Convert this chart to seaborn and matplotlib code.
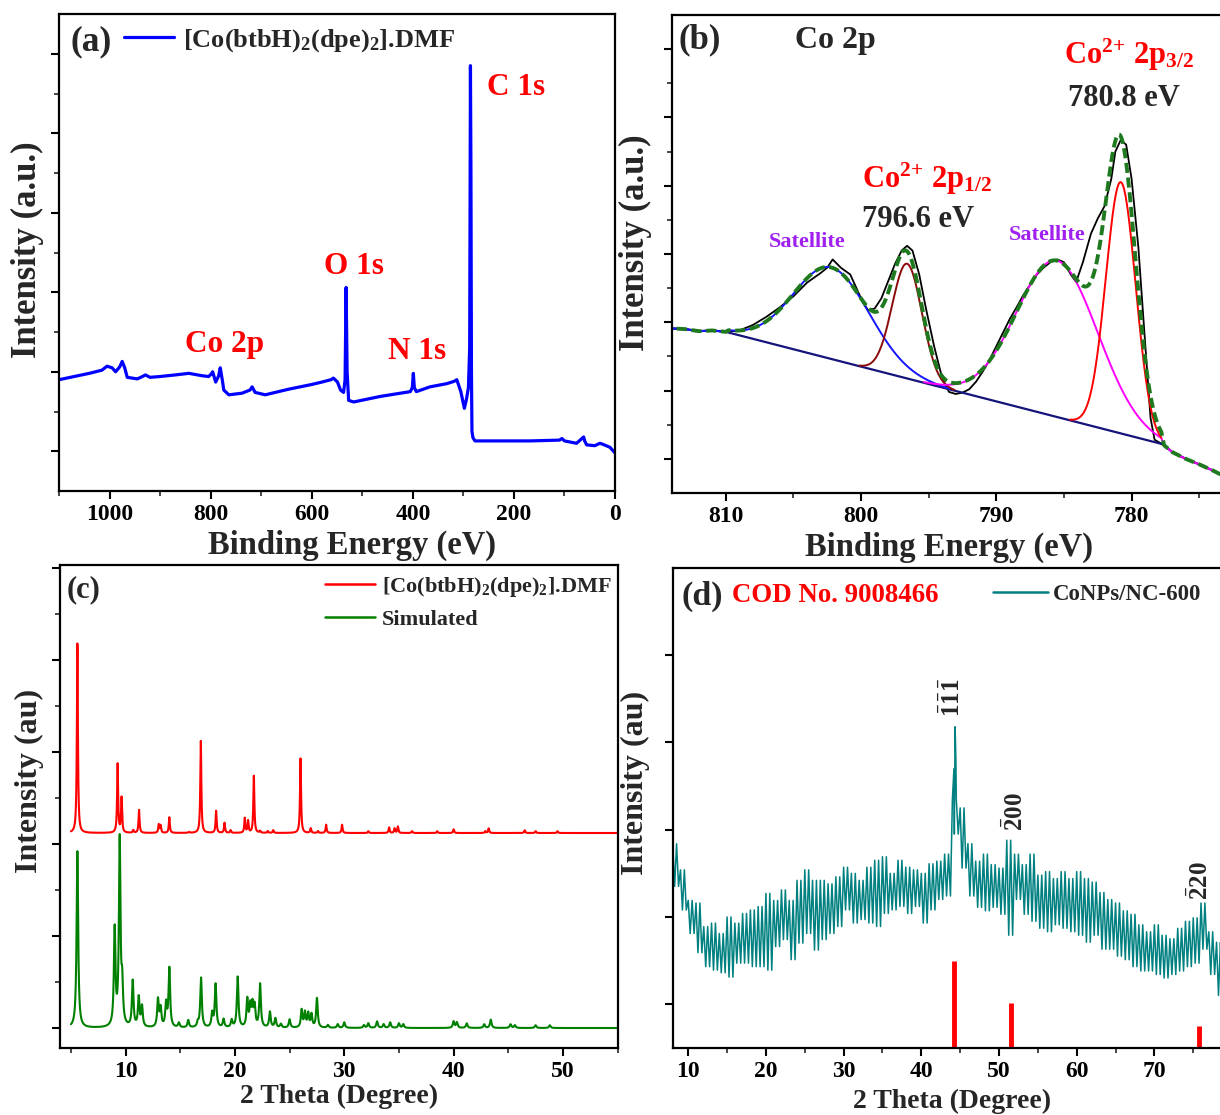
import numpy as np
import matplotlib
matplotlib.use("Agg")
import matplotlib.pyplot as plt
from matplotlib.ticker import MultipleLocator, FixedLocator
from matplotlib.lines import Line2D
import seaborn as sns

# ---------------------------------------------------------------- data
# (a) XPS survey spectrum: binding energy (eV) and intensity (a.u.)
survey_ev = [1100, 1070, 1040, 1015, 1005, 995, 988, 980, 975, 970, 965, 945, 935,
             929, 920, 900, 870, 843, 817, 804, 799, 796, 790, 784, 781, 777, 774,
             764, 738, 722, 718, 712, 692, 646, 600, 580, 562, 557, 549, 543, 537,
             534, 532, 530, 527, 517, 464, 405, 401, 399, 397, 393, 366, 333, 318,
             313, 305, 298, 294, 290, 287.5, 286, 285, 284, 283, 281, 277, 168,
             110, 105, 100, 76, 62, 60, 56, 40, 30, 25, 10, 3, 0]
survey_int = [1.40, 1.44, 1.48, 1.52, 1.57, 1.55, 1.50, 1.56, 1.63, 1.55, 1.43, 1.41,
              1.44, 1.46, 1.43, 1.44, 1.46, 1.48, 1.45, 1.44, 1.47, 1.50, 1.37, 1.45,
              1.55, 1.40, 1.27, 1.21, 1.23, 1.27, 1.31, 1.24, 1.21, 1.28, 1.34, 1.37,
              1.40, 1.42, 1.37, 1.27, 1.24, 1.40, 2.56, 1.50, 1.14, 1.12, 1.19, 1.25,
              1.30, 1.48, 1.30, 1.25, 1.31, 1.35, 1.38, 1.40, 1.25, 1.04, 1.15, 1.30,
              1.80, 5.35, 4.00, 1.50, 0.75, 0.67, 0.63, 0.63, 0.64, 0.66, 0.63, 0.60,
              0.68, 0.63, 0.58, 0.57, 0.60, 0.59, 0.55, 0.50, 0.48]

# (b) Co 2p high-resolution spectrum (measured)
co2p_ev = [814.0, 813.0, 812.0, 811.0, 810.0, 809.0, 808.0, 807.0, 806.0, 805.0,
           804.0, 803.0, 802.5, 802.1, 801.5, 800.8, 800.0, 799.5, 799.0, 798.5,
           798.0, 797.5, 797.0, 796.6, 796.2, 795.7, 795.2, 794.6, 794.0, 793.5,
           793.0, 792.5, 792.0, 791.5, 791.0, 790.5, 790.0, 789.5, 789.0, 788.5,
           788.0, 787.5, 787.0, 786.5, 786.0, 785.5, 785.0, 784.5, 784.1, 783.6,
           783.0, 782.5, 782.0, 781.5, 781.2, 780.8, 780.4, 780.0, 779.5, 779.0,
           778.6, 778.3, 777.6, 777.0, 776.5, 776.0, 775.0, 774.0, 773.5, 772.0]
co2p_int = [2.41, 2.40, 2.37, 2.38, 2.36, 2.38, 2.46, 2.58, 2.72, 2.88,
            3.08, 3.22, 3.30, 3.42, 3.30, 3.20, 2.85, 2.68, 2.70, 2.85,
            3.10, 3.35, 3.55, 3.62, 3.55, 3.20, 2.70, 2.15, 1.68, 1.48,
            1.45, 1.47, 1.52, 1.63, 1.78, 1.95, 2.15, 2.35, 2.55, 2.72,
            2.90, 3.05, 3.20, 3.30, 3.38, 3.42, 3.38, 3.20, 3.09, 3.38,
            3.80, 4.02, 4.20, 4.60, 5.00, 5.17, 5.10, 4.60, 3.60, 2.20,
            1.10, 0.78, 0.70, 0.60, 0.55, 0.50, 0.42, 0.33, 0.28, 0.20]
# linear background end points
bg_ev = [809.8, 777.8]
bg_int = [2.35, 0.72]
# fitted components: centre (eV), height above background, gaussian sigma (eV)
comp_names = ["Satellite 1", "Co2+ 2p1/2", "Satellite 2", "Co2+ 2p3/2"]
comp_center = [802.2, 796.6, 785.5, 780.8]
comp_height = [1.34, 1.68, 2.29, 3.68]
comp_sigma = [2.8, 1.1, 3.0, 1.1]
comp_color = ["#1414FF", "#8B0A0A", "#FF00FF", "#FF0000"]

# (c) PXRD peak lists: 2theta (deg) and peak top
exp_base = 2.12
exp_pos = [5.59, 9.27, 9.63, 10.7, 11.23, 13.03, 13.2, 14.0, 15.8, 16.88, 18.28,
           19.05, 19.6, 20.9, 21.2, 21.73, 22.3, 23.0, 23.5, 26.0, 26.93, 27.6,
           28.34, 29.8, 32.2, 34.1, 34.6, 34.9, 36.2, 38.5, 40.0, 42.9, 43.2,
           46.5, 47.5, 49.5]
exp_top = [4.18, 2.87, 2.50, 2.15, 2.37, 2.21, 2.20, 2.29, 2.13, 3.12, 2.36,
           2.23, 2.15, 2.28, 2.25, 2.74, 2.14, 2.14, 2.15, 2.93, 2.17, 2.14,
           2.21, 2.21, 2.14, 2.18, 2.17, 2.19, 2.14, 2.14, 2.16, 2.14, 2.17,
           2.15, 2.14, 2.14]
sim_base = 0.0
sim_pos = [5.59, 9.0, 9.46, 9.69, 10.65, 11.2, 11.5, 12.96, 13.2, 13.7, 14.0,
           14.87, 15.73, 16.6, 16.9, 17.92, 18.23, 18.96, 19.7, 20.25, 21.13,
           21.4, 21.6, 21.8, 22.3, 23.2, 23.7, 24.2, 25.0, 26.1, 26.4, 26.7,
           27.0, 27.5, 28.5, 29.4, 30.0, 31.8, 32.2, 33.0, 33.6, 34.2, 35.0,
           35.4, 40.0, 40.3, 41.2, 42.8, 43.4, 45.2, 45.6, 47.5, 48.8]
sim_top = [1.92, 1.05, 2.02, 0.40, 0.50, 0.32, 0.22, 0.30, 0.20, 0.25, 0.64,
           0.05, 0.08, 0.05, 0.54, 0.15, 0.47, 0.09, 0.08, 0.55, 0.30,
           0.22, 0.23, 0.22, 0.47, 0.17, 0.10, 0.04, 0.09, 0.19, 0.16, 0.15,
           0.14, 0.32, 0.03, 0.04, 0.06, 0.03, 0.05, 0.07, 0.04, 0.06, 0.05,
           0.04, 0.07, 0.06, 0.05, 0.04, 0.09, 0.04, 0.03, 0.03, 0.03]

# (d) CoNPs/NC-600 XRD: upper / lower extent of the trace in each 1-degree window
xrd_deg = list(range(8, 80))
xrd_hi = [2.34, 2.04, 1.69, 1.66, 1.39, 1.43, 1.31, 1.50, 1.43, 1.54, 1.58, 1.62,
          1.77, 1.69, 1.81, 1.69, 1.92, 2.04, 1.92, 1.92, 1.88, 1.96, 2.07, 2.00,
          1.92, 2.07, 2.15, 2.19, 2.00, 2.15, 2.07, 2.04, 2.00, 2.11, 2.14, 2.22,
          2.85, 2.75, 2.34, 2.14, 2.22, 2.10, 2.06, 2.38, 2.22, 2.10, 2.22, 1.98,
          2.02, 1.94, 2.02, 1.94, 2.02, 1.94, 1.90, 1.78, 1.70, 1.66, 1.57, 1.53,
          1.41, 1.33, 1.41, 1.29, 1.25, 1.37, 1.45, 1.49, 1.66, 1.33, 1.21, 1.10]
xrd_lo = [1.85, 1.58, 1.31, 1.09, 0.93, 0.89, 0.86, 0.81, 0.97, 0.97, 0.93, 0.93,
          0.89, 1.16, 1.24, 1.01, 1.20, 1.31, 1.12, 1.24, 1.31, 1.39, 1.58, 1.43,
          1.47, 1.43, 1.39, 1.54, 1.58, 1.62, 1.54, 1.62, 1.43, 1.58, 1.70, 1.74,
          2.45, 2.06, 1.74, 1.61, 1.57, 1.61, 1.53, 1.29, 1.70, 1.53, 1.45, 1.37,
          1.33, 1.41, 1.37, 1.33, 1.29, 1.21, 1.29, 1.13, 1.13, 1.05, 1.01, 0.93,
          0.88, 0.88, 0.84, 0.80, 0.84, 0.88, 0.93, 0.97, 1.13, 0.84, 0.60, 0.65]
apex_deg = [44.2, 44.35, 44.45]
apex_int = [3.20, 3.68, 3.30]
# reference pattern (COD 9008466, fcc Co)
cod_pos = [44.2, 51.5, 75.8]
cod_int = [1.00, 0.51, 0.25]
hkl_labels = [r"$\bar{1}\bar{1}\bar{1}$", r"$\bar{2}00$", r"$\bar{2}20$"]

# ---------------------------------------------------------------- style
sns.set_style("ticks")
plt.rcParams.update({
    "font.family": ["Liberation Serif", "DejaVu Serif"],
    "font.weight": "bold",
    "axes.labelweight": "bold",
    "mathtext.fontset": "custom",
    "mathtext.rm": "Liberation Serif:bold",
    "mathtext.it": "Liberation Serif:bold",
    "mathtext.bf": "Liberation Serif:bold",
    "mathtext.default": "bf",
    "axes.edgecolor": "black",
    "axes.linewidth": 1.6,
})

W, H = 1220, 1115
fig = plt.figure(figsize=(W / 100, H / 100), dpi=100)


def rect(left, top, right, bottom):
    return [left / W, 1 - bottom / H, (right - left) / W, (bottom - top) / H]


def style(ax, tick_size=17):
    for sp in ax.spines.values():
        sp.set_linewidth(1.6)
        sp.set_color("black")
    ax.tick_params(which="major", direction="out", length=6, width=1.5,
                   labelsize=tick_size, top=False, right=False, colors="black")
    ax.tick_params(which="minor", direction="out", length=3.6, width=1.2,
                   top=False, right=False)
    ax.tick_params(axis="y", labelleft=False)
    for lab in ax.get_xticklabels():
        lab.set_fontweight("bold")


def axis_labels(ax, xlabel, ylabel, xpos, ypos, size_x, size_y):
    ax.set_xlabel(xlabel, fontsize=size_x, fontweight="bold")
    ax.set_ylabel(ylabel, fontsize=size_y, fontweight="bold")
    ax.xaxis.set_label_coords(*xpos)
    ax.yaxis.set_label_coords(*ypos)
    ax.xaxis.label.set_va("center")
    ax.yaxis.label.set_va("center")


ax_a = fig.add_axes(rect(59, 14, 615, 491))
ax_b = fig.add_axes(rect(671.7, 15, 1239.8, 493))
ax_c = fig.add_axes(rect(60, 565.3, 617.6, 1047.8))
ax_d = fig.add_axes(rect(672.7, 568, 1232.1, 1047.8))

# ---------------------------------------------------------------- (a)
label_mof = r"[Co(btbH)$_2$(dpe)$_2$].DMF"
sns.lineplot(x=survey_ev, y=survey_int, ax=ax_a, color="#0000FF", linewidth=2.3,
             estimator=None, sort=False, legend=False)
ax_a.set_xlim(1100, 0)
ax_a.set_ylim(0, 6)
ax_a.xaxis.set_major_locator(FixedLocator([1000, 800, 600, 400, 200, 0]))
ax_a.xaxis.set_minor_locator(MultipleLocator(100))
ax_a.yaxis.set_major_locator(FixedLocator([0.5, 1.5, 2.5, 3.5, 4.5, 5.5]))
ax_a.yaxis.set_minor_locator(FixedLocator([1, 2, 3, 4, 5]))
style(ax_a)
axis_labels(ax_a, "Binding Energy (eV)", "Intensity (a.u.)",
            (0.527, -0.115), (-0.056, 0.505), 23.5, 25)
ax_a.legend([Line2D([], [], color="#0000FF", lw=2.3)], [label_mof],
            loc="center left", bbox_to_anchor=(0.117, 0.945), frameon=False,
            fontsize=19, handlelength=1.9, handletextpad=0.34, borderpad=0,
            borderaxespad=0)
ax_a.text(1078, 5.65, "(a)", fontsize=25.5, va="center", ha="left")
for txt, x, y in [("C 1s", 253, 5.08), ("O 1s", 575, 2.82),
                  ("Co 2p", 850, 1.84), ("N 1s", 449, 1.76)]:
    ax_a.text(x, y, txt, color="#FF0000", fontsize=22.5, va="center", ha="left")

# ---------------------------------------------------------------- (b)
ev = np.array(co2p_ev)
inten = np.array(co2p_int)
left = ev > bg_ev[0]
right = ev < bg_ev[1]
grid = np.linspace(bg_ev[1], bg_ev[0], 641)
bg = np.interp(grid, bg_ev[::-1], bg_int[::-1])
comps = [h * np.exp(-(grid - c) ** 2 / (2 * s ** 2))
         for c, h, s in zip(comp_center, comp_height, comp_sigma)]
envelope = bg + np.sum(comps, axis=0)


def joined(xfit, yfit, use_left, use_right):
    xs, ys = [xfit], [yfit]
    if use_left:
        xs.append(ev[left]); ys.append(inten[left])
    if use_right:
        xs.append(ev[right]); ys.append(inten[right])
    return np.concatenate(xs), np.concatenate(ys)


sns.lineplot(x=ev, y=inten, ax=ax_b, color="black", linewidth=1.3,
             estimator=None, legend=False)
bx, by = joined(grid, bg, True, True)
sns.lineplot(x=bx, y=by, ax=ax_b, color="#14147A", linewidth=1.6,
             estimator=None, legend=False)
for i, (comp, col) in enumerate(zip(comps, comp_color)):
    keep = comp > 0.01
    cx, cy = joined(grid[keep], (bg + comp)[keep], i == 0, i == 2)
    sns.lineplot(x=cx, y=cy, ax=ax_b, color=col, linewidth=1.4,
                 estimator=None, legend=False)
ex, ey = joined(grid, envelope, True, True)
sns.lineplot(x=ex, y=ey, ax=ax_b, color="#1F7A1F", linewidth=2.8,
             linestyle=(0, (2.6, 1.2)), estimator=None, legend=False)
ax_b.set_xlim(814, 772)
ax_b.set_ylim(0, 7)
ax_b.xaxis.set_major_locator(FixedLocator([810, 800, 790, 780]))
ax_b.xaxis.set_minor_locator(MultipleLocator(5))
ax_b.yaxis.set_major_locator(FixedLocator([0.5, 1.5, 2.5, 3.5, 4.5, 5.5, 6.5]))
ax_b.yaxis.set_minor_locator(FixedLocator([1, 2, 3, 4, 5, 6]))
style(ax_b)
axis_labels(ax_b, "Binding Energy (eV)", "Intensity (a.u.)",
            (0.488, -0.113), (-0.064, 0.523), 23.5, 25)
ax_b.text(813.5, 6.63, "(b)", fontsize=25, va="center", ha="left")
ax_b.text(804.9, 6.62, "Co 2p", fontsize=23, va="center", ha="left")
ax_b.text(785.0, 6.41, r"Co$^{2\!+}\,$2p$_{3/2}$", color="#FF0000", fontsize=22,
          va="center", ha="left")
ax_b.text(784.7, 5.78, "780.8 eV", fontsize=22, va="center", ha="left")
ax_b.text(799.9, 4.60, r"Co$^{2\!+}\,$2p$_{1/2}$", color="#FF0000", fontsize=22,
          va="center", ha="left")
ax_b.text(799.9, 4.00, "796.6 eV", fontsize=22, va="center", ha="left")
ax_b.text(806.8, 3.68, "Satellite", color="#A020F0", fontsize=16,
          va="center", ha="left")
ax_b.text(789.1, 3.78, "Satellite", color="#A020F0", fontsize=16,
          va="center", ha="left")

# ---------------------------------------------------------------- (c)
tt = np.linspace(5, 55, 5001)


def pattern(base, pos, top, hwhm):
    y = np.full_like(tt, base)
    for p, t in zip(pos, top):
        y += (t - base) / (1 + ((tt - p) / hwhm) ** 2)
    return y


exp_curve = pattern(exp_base, exp_pos, exp_top, 0.055)
sim_curve = pattern(sim_base, sim_pos, sim_top, 0.085)
sns.lineplot(x=tt, y=exp_curve, ax=ax_c, color="#FF0000", linewidth=1.5,
             estimator=None, legend=False)
sns.lineplot(x=tt, y=sim_curve, ax=ax_c, color="#008000", linewidth=1.5,
             estimator=None, legend=False)
ax_c.set_xlim(4, 55)
ax_c.set_ylim(-0.215, 5.03)
ax_c.xaxis.set_major_locator(FixedLocator([10, 20, 30, 40, 50]))
ax_c.xaxis.set_minor_locator(MultipleLocator(5))
ax_c.yaxis.set_major_locator(FixedLocator([0, 1, 2, 3, 4, 5]))
ax_c.yaxis.set_minor_locator(FixedLocator([0.5, 1.5, 2.5, 3.5, 4.5]))
style(ax_c)
axis_labels(ax_c, "2 Theta (Degree)", "Intensity (au)",
            (0.501, -0.101), (-0.054, 0.553), 20, 23)
ax_c.legend([Line2D([], [], color="#FF0000", lw=1.8),
             Line2D([], [], color="#008000", lw=1.8)],
            [label_mof, "Simulated"], loc="center left",
            bbox_to_anchor=(0.475, 0.923), frameon=False, fontsize=16,
            handlelength=2.25, handletextpad=0.3, labelspacing=0.45,
            borderpad=0, borderaxespad=0)
ax_c.text(4.6, 4.76, "(c)", fontsize=22, va="center", ha="left")

# ---------------------------------------------------------------- (d)
# each 1-degree window is traced as two up/down swings between its extremes
deg = np.array(xrd_deg, dtype=float)
hi = np.array(xrd_hi)
lo = np.array(xrd_lo)
trace_x = np.concatenate([deg, deg + 0.25, deg + 0.5, deg + 0.75, apex_deg])
trace_y = np.concatenate([hi, lo, hi, lo, apex_int])
order = np.argsort(trace_x)
sns.lineplot(x=trace_x[order], y=trace_y[order], ax=ax_d, color="#008080",
             linewidth=1.1, estimator=None, sort=False, legend=False)
ax_d.vlines(cod_pos, 0, cod_int, color="#FF0000", linewidth=3.5)
ax_d.set_xlim(8, 80)
ax_d.set_ylim(0, 5.5)
ax_d.xaxis.set_major_locator(FixedLocator([10, 20, 30, 40, 50, 60, 70]))
ax_d.xaxis.set_minor_locator(MultipleLocator(5))
ax_d.yaxis.set_major_locator(FixedLocator([0.5, 1.5, 2.5, 3.5, 4.5]))
style(ax_d)
axis_labels(ax_d, "2 Theta (Degree)", "Intensity (au)",
            (0.499, -0.112), (-0.067, 0.552), 20, 23)
ax_d.legend([Line2D([], [], color="#008080", lw=1.8)], ["CoNPs/NC-600"],
            loc="center left", bbox_to_anchor=(0.5726, 0.944), frameon=False,
            fontsize=16.5, handlelength=2.4, handletextpad=0.22, borderpad=0,
            borderaxespad=0)
ax_d.text(9.1, 5.18, "(d)", fontsize=24.5, va="center", ha="left")
ax_d.text(15.66, 5.18, "COD No. 9008466", color="#FF0000", fontsize=19.4,
          va="center", ha="left")
for txt, x, y in zip(hkl_labels, [44.0, 52.1, 75.9], [4.01, 2.71, 1.92]):
    ax_d.text(x, y, txt, fontsize=18, rotation=90, va="center", ha="center")

fig.savefig("out.png", dpi=100)
